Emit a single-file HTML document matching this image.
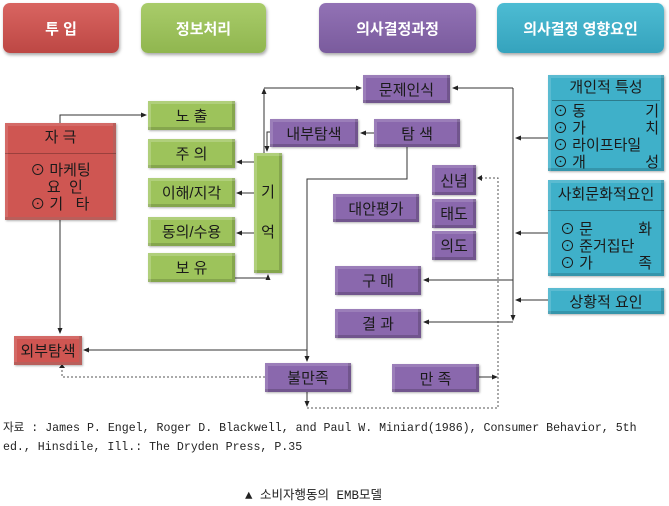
<!DOCTYPE html>
<html><head><meta charset="utf-8"><style>
body{margin:0;width:669px;height:506px;background:#fff;position:relative;overflow:hidden;font-family:"Liberation Sans","Noto Sans CJK KR",sans-serif;}
.b{position:absolute;box-sizing:border-box;display:flex;align-items:center;justify-content:center;color:#1a1a1a;font-size:15px;white-space:nowrap;}
.h{border-radius:7px;color:#fff;font-weight:bold;font-size:15px;box-shadow:1px 2px 3px rgba(0,0,0,.35);}
.r{background:#cf5652;box-shadow:inset 0 0 0 3px rgba(255,255,255,.12),inset -3px -3px 0 rgba(0,0,0,.15),1px 1px 2px rgba(0,0,0,.3);}
.g{background:#9dc35b;box-shadow:inset 3px 3px 0 rgba(255,255,255,.2),inset -3px -3px 0 rgba(0,0,0,.15),1px 1px 2px rgba(0,0,0,.3);}
.p{background:#8a68ad;box-shadow:inset 3px 3px 0 rgba(255,255,255,.15),inset -3px -3px 0 rgba(0,0,0,.18),1px 1px 2px rgba(0,0,0,.3);}
.t{background:#3fb0c9;box-shadow:inset 3px 3px 0 rgba(255,255,255,.15),inset -3px -3px 0 rgba(0,0,0,.15),1px 1px 2px rgba(0,0,0,.3);}
.hr{background:linear-gradient(#d96561,#bd4744);}
.hg{background:linear-gradient(#a9cc6a,#90b64f);}
.hp{background:linear-gradient(#9272b5,#7a5b9d);}
.ht{background:linear-gradient(#4dbcd3,#35a3bd);}
svg{position:absolute;left:0;top:0;}
.txt{position:absolute;font-family:"Liberation Mono","Noto Sans CJK KR",monospace;font-size:11.6px;color:#222;white-space:nowrap;}
</style></head><body>
<div class="b h hr" style="left:3px;top:3px;width:116px;height:50px">투 입</div>
<div class="b h hg" style="left:141px;top:3px;width:125px;height:50px">정보처리</div>
<div class="b h hp" style="left:319px;top:3px;width:157px;height:50px">의사결정과정</div>
<div class="b h ht" style="left:497px;top:3px;width:167px;height:50px">의사결정 영향요인</div>

<svg width="669" height="506">
<defs><marker id="a" markerWidth="6" markerHeight="6" refX="5" refY="3" orient="auto"><path d="M0,0.5 L6,3 L0,5.5z" fill="#222"/></marker></defs>
<g stroke="#333" stroke-width="1" fill="none">
<path d="M60,123 V115 H146" marker-end="url(#a)"/>
<path d="M60,220 V333" marker-end="url(#a)"/>
<path d="M254,162 H237" marker-end="url(#a)"/>
<path d="M254,193 H237" marker-end="url(#a)"/>
<path d="M254,233 H237" marker-end="url(#a)"/>
<path d="M235,278 H268 V275" marker-end="url(#a)"/>
<path d="M264,153 V89" marker-end="url(#a)"/>
<path d="M264,88 H361" marker-end="url(#a)"/>
<path d="M270,132 H267 V151" marker-end="url(#a)"/>
<path d="M374,133 H361" marker-end="url(#a)"/>
<path d="M407,147 V179 H307 V361" marker-end="url(#a)"/>
<path d="M307,350 H84" marker-end="url(#a)"/>
<path d="M307,392 V406" marker-end="url(#a)"/>
<path d="M479,377 H497" marker-end="url(#a)"/>
<path d="M513,88 H453" marker-end="url(#a)"/>
<path d="M513,88 V320" marker-end="url(#a)"/>
<path d="M548,138 H516" marker-end="url(#a)"/>
<path d="M548,233 H516" marker-end="url(#a)"/>
<path d="M548,300 H516" marker-end="url(#a)"/>
<path d="M513,280 H424" marker-end="url(#a)"/>
<path d="M513,322 H424" marker-end="url(#a)"/>
</g>
<g stroke="#555" stroke-width="1" fill="none" stroke-dasharray="2,2">
<path d="M265,377 H62 V368"/>
<path d="M307,408 H498 V178 H479"/>
</g>
<path d="M59,368 L62,364 L65,368z M482,175 L477,178 L482,181z" fill="#222"/>
</svg>

<div class="b r" style="left:5px;top:123px;width:111px;height:97px;flex-direction:column;justify-content:flex-start;font-size:15px">
<div style="height:30px;line-height:30px;width:100%;text-align:center;border-bottom:1px solid rgba(0,0,0,.25)">자 극</div>
<div style="line-height:17px;margin-top:8px;text-align:left">⊙ 마케팅<br>&nbsp;&nbsp;&nbsp;&nbsp;요&nbsp;&nbsp;인<br>⊙ 기&nbsp;&nbsp;&nbsp;타</div></div>
<div class="b r" style="left:14px;top:336px;width:68px;height:29px">외부탐색</div>

<div class="b g" style="left:148px;top:101px;width:87px;height:29px">노 출</div>
<div class="b g" style="left:148px;top:139px;width:87px;height:29px">주 의</div>
<div class="b g" style="left:148px;top:178px;width:87px;height:29px">이해/지각</div>
<div class="b g" style="left:148px;top:217px;width:87px;height:29px">동의/수용</div>
<div class="b g" style="left:148px;top:253px;width:87px;height:29px">보 유</div>
<div class="b g" style="left:254px;top:153px;width:28px;height:120px;flex-direction:column;line-height:40px">기<br>억</div>

<div class="b p" style="left:363px;top:75px;width:87px;height:28px">문제인식</div>
<div class="b p" style="left:270px;top:119px;width:88px;height:28px">내부탐색</div>
<div class="b p" style="left:374px;top:119px;width:86px;height:28px">탐 색</div>
<div class="b p" style="left:432px;top:165px;width:44px;height:30px">신념</div>
<div class="b p" style="left:432px;top:199px;width:44px;height:29px">태도</div>
<div class="b p" style="left:432px;top:231px;width:44px;height:29px">의도</div>
<div class="b p" style="left:333px;top:194px;width:86px;height:28px">대안평가</div>
<div class="b p" style="left:335px;top:266px;width:86px;height:29px">구 매</div>
<div class="b p" style="left:335px;top:309px;width:86px;height:29px">결 과</div>
<div class="b p" style="left:265px;top:363px;width:86px;height:29px">불만족</div>
<div class="b p" style="left:392px;top:364px;width:87px;height:28px">만 족</div>

<div class="b t" style="left:548px;top:75px;width:116px;height:96px;flex-direction:column;justify-content:flex-start;align-items:stretch;font-size:15px">
<div style="height:25px;line-height:25px;text-align:center;border-bottom:1px solid rgba(0,0,0,.3);margin:0 4px">개인적 특성</div>
<div style="line-height:17px;padding:2px 5px 0 5px">
<div style="display:flex;justify-content:space-between"><span>⊙ 동</span><span>기</span></div>
<div style="display:flex;justify-content:space-between"><span>⊙ 가</span><span>치</span></div>
<div>⊙ 라이프타일</div>
<div style="display:flex;justify-content:space-between"><span>⊙ 개</span><span>성</span></div></div></div>
<div class="b t" style="left:548px;top:180px;width:116px;height:96px;flex-direction:column;justify-content:flex-start;align-items:stretch;font-size:15px">
<div style="height:30px;line-height:30px;text-align:center;border-bottom:1px solid rgba(0,0,0,.3)">사회문화적요인</div>
<div style="line-height:17px;padding:10px 12px 0 12px">
<div style="display:flex;justify-content:space-between"><span>⊙ 문</span><span>화</span></div>
<div>⊙ 준거집단</div>
<div style="display:flex;justify-content:space-between"><span>⊙ 가</span><span>족</span></div></div></div>
<div class="b t" style="left:548px;top:288px;width:116px;height:26px">상황적 요인</div>

<div class="txt" style="left:3px;top:419px">자료 : James P. Engel, Roger D. Blackwell, and Paul W. Miniard(1986), Consumer Behavior, 5th</div>
<div class="txt" style="left:3px;top:441px">ed., Hinsdile, Ill.: The Dryden Press, P.35</div>
<div class="txt" style="left:245px;top:484px;font-size:12.5px">▲ 소비자행동의 EMB모델</div>
</body></html>
